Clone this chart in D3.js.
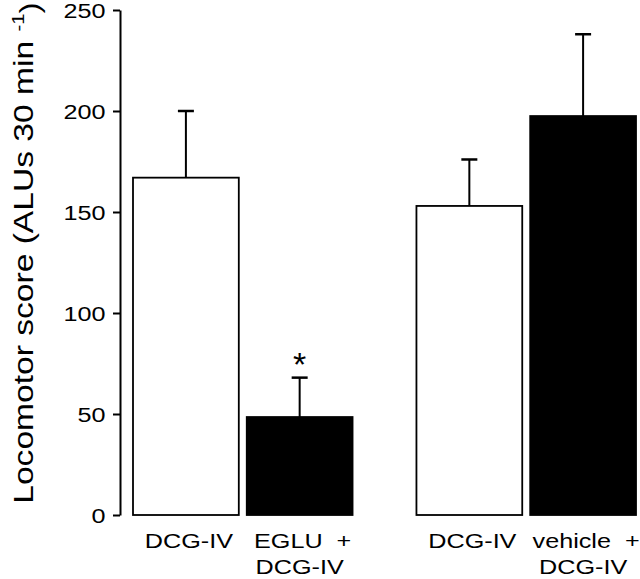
<!DOCTYPE html>
<html>
<head>
<meta charset="utf-8">
<style>
    body { margin: 0; background: #fff; }
    svg { display: block; font-family: 'Liberation Sans', Arial, sans-serif; }
    .y .domain { stroke: #000; stroke-width: 2px; }
    .y .tick line { stroke: #000; stroke-width: 2px; }
    .y .tick text { font-size: 21px; fill: #000; }
    .lab { font-size: 21px; fill: #000; white-space: pre; }
</style>
</head>
<body>
<svg width="640" height="579"></svg>
<script src="https://d3js.org/d3.v7.min.js"></script>
<script>
    // bars, left to right
    const groups = ["A", "A", "B", "B"];
    const slots = [0, 1, 0, 1];
    const line1 = ["DCG-IV", "EGLU  +", "DCG-IV", "vehicle  +"];
    const line2 = ["", "DCG-IV", "", "DCG-IV"];
    const means = [167, 48.5, 153, 197.5];
    const sems = [33, 19.5, 23, 40.5];
    const treated = [false, true, false, true];
    const stars = ["", "*", "", ""];
    const yTicks = [0, 50, 100, 150, 200, 250];

    const width = 640, height = 579;
    const margin = { top: 10, right: 4, bottom: 64, left: 120 };
    const wide = 1.2; // the original font is wider than Arial

    let svg = d3.select("svg");

    let data = means.map((m, i) => ({
        group: groups[i], slot: slots[i], mean: m, sem: sems[i],
        treated: treated[i], l1: line1[i], l2: line2[i], star: stars[i]
    }));

    let y = d3.scaleLinear()
        .domain([0, 250])
        .range([height - margin.bottom, margin.top]);

    let xGroup = d3.scaleBand()
        .domain(["A", "B"])
        .range([margin.left + 13, width - margin.right])
        .paddingInner(0.2254)
        .paddingOuter(0);

    let xSlot = d3.scaleBand()
        .domain([0, 1])
        .range([0, xGroup.bandwidth()])
        .paddingInner(0.07);

    let barX = d => xGroup(d.group) + xSlot(d.slot);
    let barMid = d => barX(d) + xSlot.bandwidth() / 2;

    // y axis
    let yAxis = svg.append("g")
        .attr("class", "y axis")
        .attr("transform", `translate(${margin.left},0)`)
        .call(d3.axisLeft(y).tickValues(yTicks).tickSize(7).tickPadding(5).tickSizeOuter(0));
    yAxis.selectAll(".tick text").attr("transform", `scale(${wide},1)`).attr("dy", "0.36em");

    // error bars (drawn first, bars cover the lower part)
    let err = svg.append("g").selectAll("g")
        .data(data)
        .join("g");
    err.append("line")
        .attr("x1", barMid).attr("x2", barMid)
        .attr("y1", d => y(d.mean)).attr("y2", d => y(d.mean + d.sem))
        .style("stroke", "#000").style("stroke-width", "2px");
    err.append("line")
        .attr("x1", d => barMid(d) - 8).attr("x2", d => barMid(d) + 8)
        .attr("y1", d => y(d.mean + d.sem)).attr("y2", d => y(d.mean + d.sem))
        .style("stroke", "#000").style("stroke-width", "2.5px");

    // bars
    svg.append("g").selectAll("rect")
        .data(data)
        .join("rect")
        .attr("x", barX)
        .attr("y", d => y(d.mean))
        .attr("width", xSlot.bandwidth())
        .attr("height", d => y(0) - y(d.mean))
        .style("fill", d => d.treated ? "#000" : "#fff")
        .style("stroke", "#000")
        .style("stroke-width", "1.8px");

    // significance marks
    svg.append("g").selectAll("text")
        .data(data.filter(d => d.star))
        .join("text")
        .attr("transform", d => `translate(${barMid(d)},${y(d.mean + d.sem) - 2})`)
        .attr("text-anchor", "middle")
        .style("font-size", "34px")
        .text(d => d.star);

    // category labels
    let cats = svg.append("g").selectAll("g")
        .data(data)
        .join("g")
        .attr("transform", d => `translate(${barMid(d) + 3},${y(0)})`);
    cats.append("text")
        .attr("class", "lab")
        .attr("text-anchor", "middle")
        .attr("transform", `translate(0,33) scale(${wide},1)`)
        .text(d => d.l1);
    cats.append("text")
        .attr("class", "lab")
        .attr("text-anchor", "middle")
        .attr("transform", `translate(-3,59) scale(${wide},1)`)
        .text(d => d.l2);

    // y axis title
    let title = svg.append("text")
        .attr("transform", `translate(33,253) rotate(-90) scale(${wide},1)`)
        .attr("text-anchor", "middle")
        .style("font-size", "28px")
        .style("white-space", "pre");
    title.append("tspan").text("Locomotor score (ALUs 30 min ");
    title.append("tspan").attr("dy", "-0.55em").style("font-size", "17px").text("-1");
    title.append("tspan").attr("dy", "0.55em").text(")");
</script>
</body>
</html>
